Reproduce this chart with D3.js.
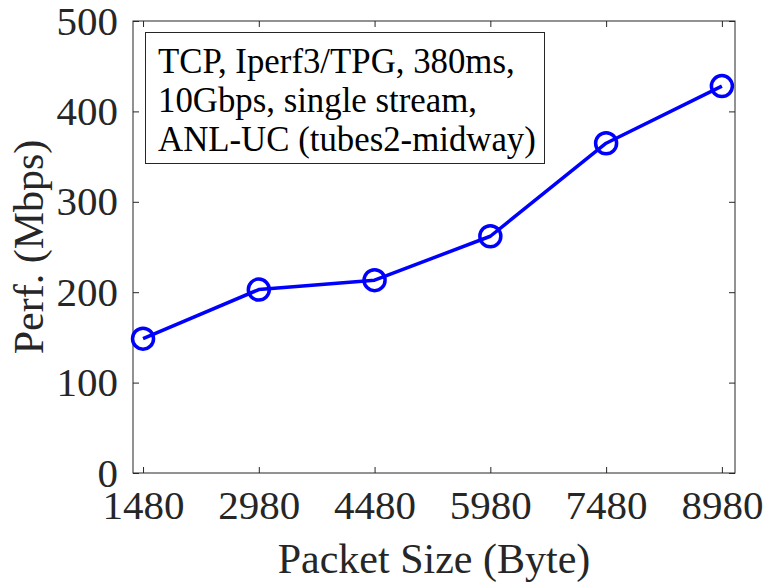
<!DOCTYPE html>
<html>
<head>
<meta charset="utf-8">
<script src="https://cdn.jsdelivr.net/npm/d3@7"></script>
<style>
  body { margin: 0; background: #fff; }
  svg { display: block; font-family: "Liberation Serif", "Times New Roman", serif; }
</style>
</head>
<body>
<svg width="766" height="583"></svg>
<script>
// packet sizes (x) and measured throughput (y)
const packetSizes = [1480, 2980, 4480, 5980, 7480, 8980];
const perfMbps = [148.6, 202.9, 213.3, 261.9, 364.8, 428];
const yTicks = [0, 100, 200, 300, 400, 500];
const legendLines = [
  "TCP, Iperf3/TPG, 380ms,",
  "10Gbps, single stream,",
  "ANL-UC (tubes2-midway)"
];

function drawLineChart() {
  const svg = d3.select("svg"),
    margin = { top: 21, right: 31, bottom: 110, left: 133 },
    width = +svg.attr("width") - margin.left - margin.right,
    height = +svg.attr("height") - margin.top - margin.bottom;

  const x = d3.scaleLinear().domain([1350, 9150]).range([0, width]);
  const y = d3.scaleLinear().domain([0, 500]).range([height, 0]);

  const g = svg
    .append("g")
    .attr("transform", `translate(${margin.left},${margin.top})`);

  const axisColor = "#262626";
  const tickLen = 6;
  const serif = "'Liberation Serif', 'Times New Roman', serif";

  // inward ticks on all four sides, like matlab's box on
  const styleAxis = (sel) => {
    sel.attr("font-family", serif).attr("font-size", 41);
    sel.select(".domain").remove();
    sel.selectAll("line").attr("stroke", axisColor);
    sel.selectAll("text").attr("fill", axisColor);
  };

  g.append("g")
    .attr("class", "axis axis--x")
    .attr("transform", `translate(0,${height})`)
    .call(d3.axisBottom(x).tickValues(packetSizes).tickSize(-tickLen).tickFormat(d3.format("d")))
    .call(styleAxis)
    .selectAll("text")
    .attr("dy", "0.71em")
    .attr("y", 17);

  g.append("g")
    .attr("class", "axis axis--x-top")
    .call(d3.axisTop(x).tickValues(packetSizes).tickSize(-tickLen).tickFormat(""))
    .call(styleAxis);

  g.append("g")
    .attr("class", "axis axis--y")
    .call(d3.axisLeft(y).tickValues(yTicks).tickSize(-tickLen).tickPadding(15))
    .call(styleAxis);

  g.append("g")
    .attr("class", "axis axis--y-right")
    .attr("transform", `translate(${width},0)`)
    .call(d3.axisRight(y).tickValues(yTicks).tickSize(-tickLen).tickFormat(""))
    .call(styleAxis);

  // plot box
  g.append("rect")
    .attr("width", width)
    .attr("height", height)
    .attr("fill", "none")
    .attr("stroke", axisColor)
    .attr("stroke-width", 1);

  // axis titles
  g.append("text")
    .attr("x", width / 2)
    .attr("y", height + 100)
    .attr("text-anchor", "middle")
    .attr("fill", axisColor)
    .style("font-size", "42px")
    .text("Packet Size (Byte)");

  g.append("text")
    .attr("transform", `translate(${43 - margin.left},${height / 2}) rotate(-90)`)
    .attr("text-anchor", "middle")
    .attr("fill", axisColor)
    .style("font-size", "42px")
    .text("Perf. (Mbps)");

  const data = packetSizes.map((s, i) => ({ size: s, perf: perfMbps[i] }));

  const line = d3.line()
    .x(d => x(d.size))
    .y(d => y(d.perf));

  g.append("path")
    .datum(data)
    .attr("fill", "none")
    .attr("stroke", "#0000ff")
    .attr("stroke-width", 3.5)
    .attr("stroke-linejoin", "round")
    .attr("d", line);

  g.selectAll(".marker")
    .data(data)
    .enter()
    .append("circle")
    .attr("class", "marker")
    .attr("cx", d => x(d.size))
    .attr("cy", d => y(d.perf))
    .attr("r", 10.5)
    .attr("fill", "none")
    .attr("stroke", "#0000ff")
    .attr("stroke-width", 3.5);

  // annotation box
  const box = g.append("g")
    .attr("transform", `translate(${145.5 - margin.left},${32.5 - margin.top})`);

  box.append("rect")
    .attr("width", 399)
    .attr("height", 131)
    .attr("fill", "#fff")
    .attr("stroke", axisColor)
    .attr("stroke-width", 1);

  box.selectAll("text")
    .data(legendLines)
    .enter()
    .append("text")
    .attr("x", 12.5)
    .attr("y", (d, i) => 40 + i * 39)
    .attr("fill", "#000")
    .style("font-size", "34.8px")
    .text(d => d);
}

drawLineChart();
</script>
</body>
</html>
